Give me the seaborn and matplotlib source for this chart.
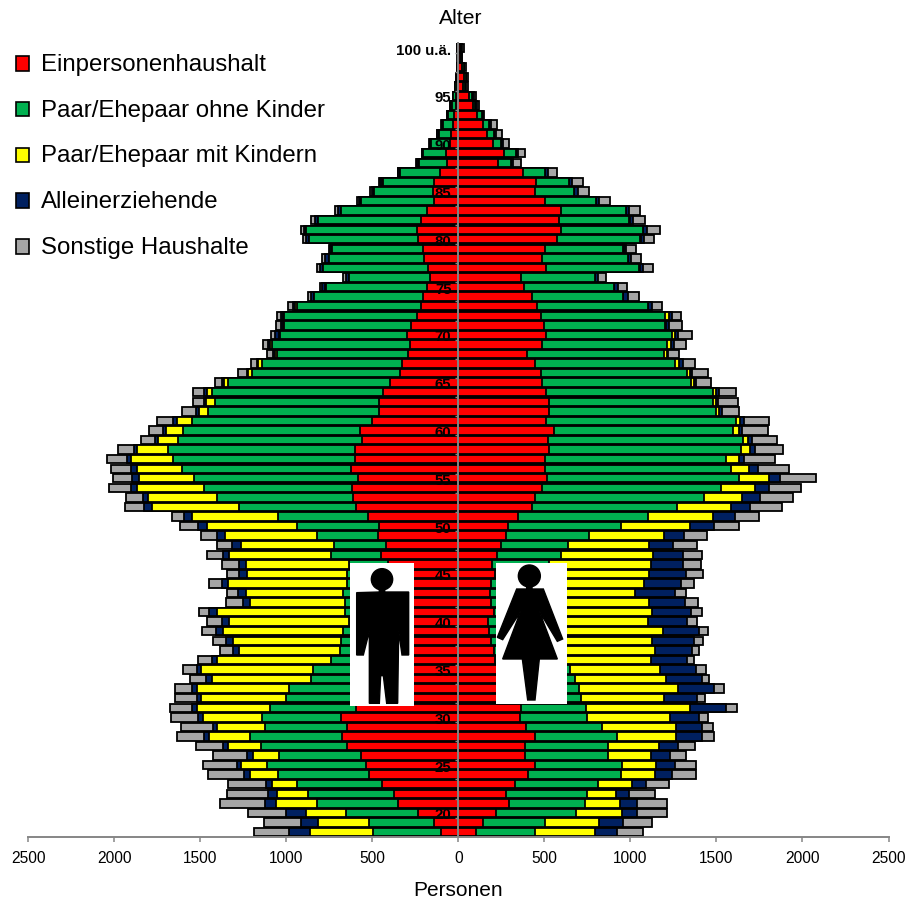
import matplotlib
matplotlib.use("Agg")
import matplotlib.pyplot as plt
import numpy as np
import pandas as pd
import seaborn as sns
from matplotlib.patches import Circle, Patch, Polygon

ages = list(range(18, 101))
age_ticks = [20, 25, 30, 35, 40, 45, 50, 55, 60, 65, 70, 75, 80, 85, 90, 95, 100]
age_labels = ["20", "25", "30", "35", "40", "45", "50", "55", "60", "65", "70", "75", "80", "85", "90", "95", "100 u.ä."]
person_ticks = [-2500, -2000, -1500, -1000, -500, 0, 500, 1000, 1500, 2000, 2500]
person_labels = ["2500", "2000", "1500", "1000", "500", "0", "500", "1000", "1500", "2000", "2500"]

households = ["Einpersonenhaushalt", "Paar/Ehepaar ohne Kinder", "Paar/Ehepaar mit Kindern", "Alleinerziehende", "Sonstige Haushalte"]
colors = ["#FF0000", "#00B050", "#FFFF00", "#002060", "#A6A6A6"]

# men, age 18 to 100
male_single = [103, 141, 233, 353, 374, 442, 521, 537, 567, 647, 674, 647, 682, 597, 540, 500, 440, 430, 400, 380, 370, 360, 360, 340,
               340, 330, 340, 330, 407, 448, 421, 469, 459, 523, 595, 610, 618, 581, 626, 601, 601, 558, 572, 504, 461, 463, 440, 397,
               339, 326, 295, 279, 296, 276, 239, 218, 208, 181, 166, 179, 199, 204, 234, 243, 218, 181, 142, 146, 142, 108, 65, 73, 49,
               44, 30, 24, 16, 15, 10, 6, 5, 3, 3]
male_couple = [391, 380, 420, 471, 501, 499, 529, 573, 473, 498, 538, 475, 458, 496, 460, 482, 418, 417, 342, 308, 310, 312, 274, 317,
               320, 340, 309, 320, 227, 294, 302, 355, 481, 524, 678, 791, 859, 954, 981, 1056, 1089, 1070, 1027, 1046, 992, 952, 992, 940,
               859, 817, 761, 806, 742, 739, 776, 719, 630, 591, 469, 607, 554, 529, 633, 640, 597, 502, 424, 345, 299, 230, 165, 130, 111,
               67, 58, 35, 24, 15, 8, 5, 3, 2, 4]
male_kids = [368, 293, 234, 239, 182, 145, 159, 152, 155, 192, 240, 280, 346, 424, 494, 539, 576, 651, 659, 585, 628, 694, 697, 748,
             551, 566, 692, 581, 602, 589, 543, 533, 523, 503, 506, 401, 391, 323, 263, 248, 176, 116, 101, 88, 53, 52, 31, 24,
             23, 20, 10, 10, 5, 4, 4, 12, 2, 2, 2, 2, 2, 2, 2, 2, 2, 2, 2, 2, 2, 1, 1, 1, 1,
             1, 1, 1, 1, 0, 0, 0, 0, 0, 0]
male_parent = [124, 101, 115, 59, 47, 33, 39, 27, 33, 29, 25, 27, 27, 31, 27, 29, 33, 23, 31, 39, 43, 43, 43, 43,
               43, 45, 35, 42, 41, 39, 50, 48, 53, 43, 49, 33, 35, 37, 33, 19, 18, 18, 19, 19, 19, 12, 16, 15,
               10, 9, 10, 10, 24, 15, 15, 10, 19, 18, 17, 18, 18, 12, 18, 15, 14, 14, 12, 12, 13, 10, 10, 6, 6,
               10, 9, 6, 5, 2, 1, 1, 0, 0, 0]
male_other = [202, 215, 223, 261, 242, 223, 207, 193, 199, 157, 157, 181, 159, 130, 128, 95, 93, 82, 82, 74, 73, 81, 85, 60,
              97, 66, 74, 70, 99, 91, 87, 93, 102, 74, 108, 95, 126, 111, 118, 120, 97, 85, 79, 97, 83, 62, 66, 37,
              48, 31, 36, 29, 25, 29, 23, 30, 18, 13, 16, 15, 17, 8, 19, 16, 26, 18, 12, 9, 6, 1, 6, 4, 3,
              5, 4, 3, 3, 2, 1, 1, 1, 1, 1]

# women, age 18 to 100
female_single = [104, 142, 218, 294, 276, 328, 402, 447, 390, 390, 445, 394, 356, 365, 310, 300, 290, 250, 210, 208, 187, 179, 170, 208,
                 189, 181, 189, 212, 193, 222, 247, 274, 286, 348, 429, 447, 484, 515, 503, 503, 524, 520, 557, 512, 528, 524, 512, 487,
                 480, 445, 398, 487, 507, 497, 478, 454, 428, 383, 361, 507, 487, 503, 571, 596, 586, 594, 503, 447, 449, 377, 232, 266, 199,
                 164, 144, 111, 82, 63, 28, 32, 22, 10, 12]
female_couple = [343, 361, 465, 442, 473, 485, 541, 502, 481, 479, 476, 439, 389, 376, 400, 400, 390, 400, 380, 360, 380, 380, 390, 350,
                 370, 390, 400, 400, 335, 372, 390, 487, 657, 752, 839, 978, 1040, 1118, 1080, 1051, 1118, 1133, 1041, 1100, 969, 958, 966, 865,
                 850, 814, 799, 723, 732, 703, 722, 646, 527, 521, 431, 544, 496, 451, 486, 475, 407, 378, 294, 226, 193, 126, 73, 68, 48,
                 44, 35, 25, 14, 14, 10, 10, 8, 5, 6]
female_kids = [347, 316, 266, 205, 165, 194, 199, 199, 248, 298, 341, 429, 485, 607, 485, 578, 524, 521, 529, 575, 560, 628, 544, 565,
               551, 455, 489, 498, 591, 539, 469, 432, 403, 378, 316, 225, 202, 174, 108, 75, 55, 33, 33, 27, 18, 17, 19, 17,
               16, 23, 15, 24, 20, 8, 25, 2, 2, 2, 2, 2, 2, 8, 2, 3, 4, 1, 1, 1, 1, 1, 1, 1, 1,
               1, 1, 1, 1, 1, 0, 0, 0, 0, 0]
female_parent = [127, 139, 87, 95, 79, 81, 97, 111, 111, 111, 152, 152, 170, 205, 194, 209, 210, 208, 211, 217, 242, 213, 222, 229,
                 207, 233, 213, 211, 188, 174, 143, 118, 138, 130, 111, 105, 77, 64, 49, 33, 29, 19, 15, 19, 15, 12, 18, 10,
                 13, 21, 8, 17, 18, 16, 15, 23, 27, 19, 19, 18, 18, 10, 20, 20, 19, 20, 21, 19, 19, 18, 9, 13, 9,
                 9, 9, 8, 12, 10, 5, 5, 5, 4, 5]
female_other = [150, 169, 178, 178, 150, 136, 142, 120, 93, 95, 69, 64, 49, 64, 44, 58, 42, 58, 41, 39, 55, 52, 62, 62,
                74, 64, 77, 103, 101, 111, 135, 136, 147, 139, 184, 192, 188, 209, 183, 178, 161, 145, 155, 149, 101, 112, 99, 89,
                90, 72, 64, 70, 80, 73, 51, 56, 65, 57, 45, 60, 58, 58, 58, 78, 68, 62, 62, 68, 64, 49, 49, 42, 38,
                33, 33, 5, 10, 14, 10, 10, 8, 3, 7]

sns.set_theme(style="white")
plt.rcParams["font.family"] = ["Liberation Sans", "DejaVu Sans"]

fig = plt.figure(figsize=(9.10, 9.04), dpi=100)
ax = fig.add_axes([28.3 / 910, (904 - 837.8) / 904, 860.2 / 910, 793.5 / 904])


def draw_side(columns, sign):
    # overlay running totals, longest first, so the bars read as stacked
    table = pd.DataFrame(dict(zip(households, columns)), index=ages)
    running = table.cumsum(axis=1)
    for name, color in zip(households[::-1], colors[::-1]):
        sns.barplot(
            x=sign * running[name].to_numpy(),
            y=np.array(ages),
            orient="y",
            native_scale=True,
            color=color,
            saturation=1,
            width=0.88,
            edgecolor="black",
            linewidth=1.3,
            errorbar=None,
            ax=ax,
        )


draw_side([male_single, male_couple, male_kids, male_parent, male_other], -1)
draw_side([female_single, female_couple, female_kids, female_parent, female_other], 1)

ax.set_xlim(-2500, 2500)
ax.set_ylim(17.5, 100.5)
ax.set_axisbelow(False)
ax.patch.set_alpha(0)

for side in ["top", "right"]:
    ax.spines[side].set_visible(False)
ax.spines["left"].set_position(("data", 0))
for side in ["left", "bottom"]:
    ax.spines[side].set_color("#868686")
    ax.spines[side].set_linewidth(1.4)

ax.set_xticks(person_ticks)
ax.set_xticklabels(person_labels, fontsize=11.2, color="black")
ax.tick_params(axis="x", which="major", bottom=True, direction="out", length=3.5, width=1.1, color="#868686", pad=6)

ax.set_yticks(age_ticks)
ax.set_yticklabels(age_labels, fontsize=10.8, fontweight="bold", color="black")
ax.set_yticks(np.arange(19.5, 100.5, 2), minor=True)
ax.tick_params(axis="y", which="major", left=False, pad=-1)
ax.tick_params(axis="y", which="minor", left=True, direction="out", length=2.5, width=1.0, color="#868686")

ax.set_xlabel("Personen", fontsize=15, color="black", labelpad=11)
ax.set_ylabel("")
fig.text(460.5 / 910, 1 - 18 / 904, "Alter", fontsize=15.2, color="black", ha="center", va="center")

handles = [Patch(facecolor=c, edgecolor="black", linewidth=1.2, label=n) for n, c in zip(households, colors)]
legend = fig.legend(
    handles=handles,
    loc="upper left",
    bbox_to_anchor=(11 / 910, 1 - 49 / 904),
    frameon=False,
    fontsize=17.3,
    handlelength=0.56,
    handleheight=0.56,
    handletextpad=0.47,
    labelspacing=0.99,
    borderpad=0.2,
    borderaxespad=0,
    labelcolor="black",
)
for patch in legend.get_patches():
    patch.set_y(patch.get_y() - 1.5)


def pictogram(box, shapes):
    # white box with a black figure, shape points in box pixels
    x0, y0, x1, y1 = box
    pic = fig.add_axes([x0 / 910, 1 - y1 / 904, (x1 - x0) / 910, (y1 - y0) / 904], zorder=5)
    pic.set_xlim(x0, x1)
    pic.set_ylim(y1, y0)
    pic.set_facecolor("white")
    pic.set_xticks([])
    pic.set_yticks([])
    for spine in pic.spines.values():
        spine.set_visible(False)
    for shape in shapes:
        pic.add_patch(shape)


def to_px(points):
    return [(340 + x / 3, 555 + y / 3) for x, y in points]


man_body = [(118, 100), (134, 100), (134, 114), (206, 114), (206, 303), (186, 303), (176, 232), (173, 448), (140, 448),
            (130, 365), (122, 365), (118, 448), (88, 448), (88, 232), (70, 303), (50, 303), (50, 116), (118, 114)]
woman_body = [(560, 92), (576, 92), (576, 105), (610, 105), (668, 255), (652, 262), (598, 172), (652, 315), (598, 315),
              (585, 438), (563, 438), (547, 315), (488, 315), (542, 172), (488, 257), (472, 250), (530, 105), (560, 105)]

pictogram((350, 564, 414, 707), [
    Circle((340 + 126 / 3, 555 + 76 / 3), 32 / 3, color="black"),
    Polygon(to_px(man_body), closed=True, color="black"),
])
pictogram((496, 564, 567, 705), [
    Circle((340 + 568 / 3, 555 + 66 / 3), 33 / 3, color="black"),
    Polygon(to_px(woman_body), closed=True, color="black"),
])

fig.savefig("out.png", dpi=100)
plt.close(fig)
